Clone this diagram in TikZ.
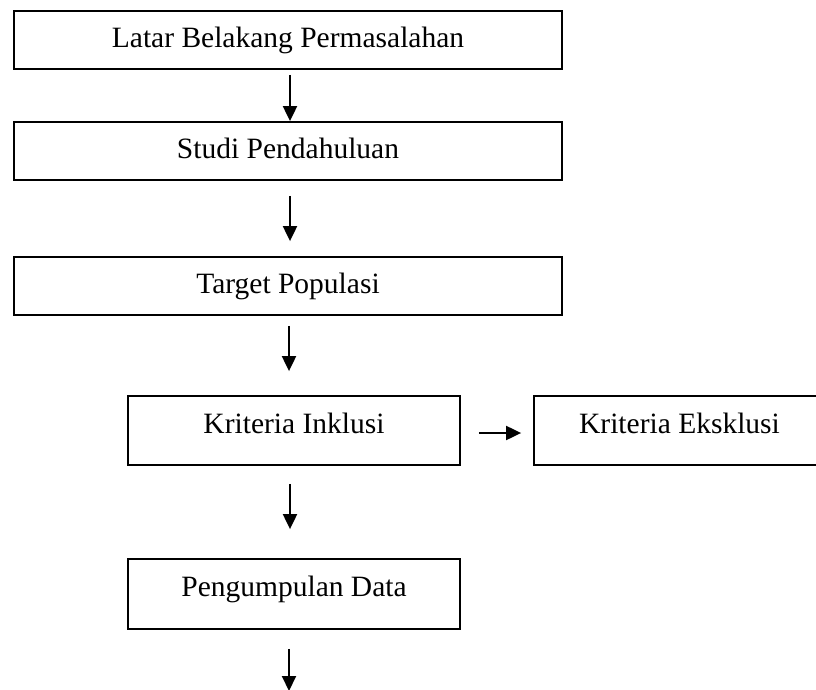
\documentclass[tikz,border=0pt]{standalone}
\usepackage{fontspec}
\setmainfont{Liberation Serif}
\usetikzlibrary{arrows.meta}
\begin{document}
\begin{tikzpicture}[x=1pt,y=-1pt,
  box/.style={draw=black, line width=1.8pt, rectangle, inner sep=0pt,
    font=\fontsize{29.5}{31}\selectfont, text height=20pt, text depth=5pt},
  sbox/.style={box, text depth=15pt},
  arr/.style={line width=2pt, -{Triangle[width=14pt,length=15pt]}}]
\clip (0,0) rectangle (816,690);
\fill[white] (0,0) rectangle (816,690);
\node[box, minimum width=548pt, minimum height=58pt] (b1) at (288,40) {Latar Belakang Permasalahan};
\node[box, minimum width=548pt, minimum height=58pt] (b2) at (288,151) {Studi Pendahuluan};
\node[box, minimum width=548pt, minimum height=58pt] (b3) at (288,286) {Target Populasi};
\node[sbox, minimum width=332pt, minimum height=69pt] (b4) at (294,430.5) {Kriteria Inklusi};
\node[sbox, minimum width=291pt, minimum height=69pt] (b5) at (679.5,430.5) {Kriteria Eksklusi};
\node[sbox, minimum width=332pt, minimum height=70pt] (b6) at (294,594) {Pengumpulan Data};
\coordinate (end) at (289,691);
\draw[arr] ([xshift=2pt,yshift=-5pt]b1.south) -- ([xshift=2pt]b2.north);
\draw[arr] ([xshift=2pt,yshift=-15pt]b2.south) -- ([xshift=2pt,yshift=15pt]b3.north);
\draw[arr] ([xshift=1pt,yshift=-10pt]b3.south) -- ([xshift=1pt,yshift=24pt]b3.south |- b4.north);
\draw[arr] ([xshift=18pt,yshift=-2.5pt]b4.east) -- ([xshift=-12pt,yshift=-2.5pt]b5.west);
\draw[arr] ([xshift=-4pt,yshift=-18pt]b4.south) -- ([xshift=-4pt,yshift=29pt]b6.north);
\draw[arr] ([xshift=-5pt,yshift=-19pt]b6.south) -- (end);
\end{tikzpicture}
\end{document}
